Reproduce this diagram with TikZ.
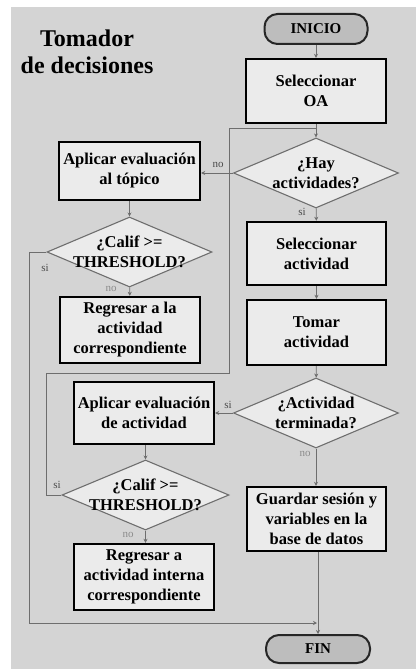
\documentclass[tikz,border=0pt]{standalone}
\usepackage{fontspec}
\setmainfont{Liberation Serif}
\usetikzlibrary{shapes.geometric,arrows.meta}
\definecolor{bgpanel}{HTML}{D4D4D4}
\definecolor{boxfill}{HTML}{EBEBEB}
\definecolor{termfill}{HTML}{BDBDBD}
\definecolor{wire}{HTML}{6E6E6E}
\definecolor{lbl}{HTML}{4A4A4A}
\definecolor{lblpale}{HTML}{8C8C8C}
\tikzset{
  txt/.style={font=\fontsize{16.5}{20}\selectfont\bfseries, align=center},
  procbox/.style={draw=black, line width=2.4pt, fill=boxfill, txt, inner sep=0pt},
  termbox/.style={draw=black!85, line width=2pt, fill=termfill, rounded corners=13pt,
    font=\fontsize{15}{18}\selectfont\bfseries, inner sep=0pt},
  decbox/.style={diamond, draw=wire, line width=1.1pt, fill=boxfill, inner sep=0pt,
    minimum width=165pt, minimum height=70pt, aspect=2.36},
  flow/.style={draw=wire, line width=0.9pt},
  arr/.style={flow, -{Stealth[length=4pt,width=4pt,fill=black!80]}},
  tag/.style={font=\fontsize{11}{12}\selectfont, text=lbl, inner sep=0pt},
  tagpale/.style={tag, text=lblpale},
}
\begin{document}
\begin{tikzpicture}[x=1pt,y=-1pt]
\useasboundingbox (0,0) rectangle (416,669);
\fill[bgpanel] (11,7) rectangle (416,669);

% title
\node[font=\fontsize{24}{27}\selectfont\bfseries, align=center] (title) at (87,52)
  {Tomador\\de decisiones};

% main column
\node[termbox, minimum width=103pt, minimum height=30pt] (ini) at (316,29) {INICIO};
\node[procbox, minimum width=140pt, minimum height=64pt] (selOA) at (316,91) {Seleccionar\\OA};
\node[decbox, label={[txt]center:¿Hay\\actividades?}] (hay) at (316,173) {};
\node[procbox, minimum width=139pt, minimum height=63pt] (selAct) at (316.5,253.5) {Seleccionar\\actividad};
\node[procbox, minimum width=139pt, minimum height=65pt] (tomar) at (316.5,332.5) {Tomar\\actividad};
\node[decbox, label={[txt]center:¿Actividad\\terminada?}] (term) at (316,413) {};
\node[procbox, minimum width=139pt, minimum height=64pt] (guardar) at (316.5,519) {Guardar sesión y\\variables en la\\base de datos};
\node[termbox, minimum width=104pt, minimum height=28pt] (fin) at (318,649) {FIN};

% topic evaluation branch
\node[procbox, minimum width=141pt, minimum height=58pt] (aplTop) at (129.5,171) {Aplicar evaluación\\al tópico};
\node[decbox, label={[txt]center:¿Calif >=\\THRESHOLD?}] (calA) at (129.5,252) {};
\node[procbox, minimum width=140pt, minimum height=66pt] (regA) at (130,330) {Regresar a la\\actividad\\correspondiente};

% activity evaluation branch
\node[procbox, minimum width=140pt, minimum height=62pt] (aplAct) at (144,413) {Aplicar evaluación\\de actividad};
\node[decbox, minimum width=167pt, label={[txt]center:¿Calif >=\\THRESHOLD?}] (calB) at (145.5,495) {};
\node[procbox, minimum width=140pt, minimum height=66pt] (regB) at (144,577) {Regresar a\\actividad interna\\correspondiente};

% bend points of the return lines
\coordinate (loopA) at (46,373);
\coordinate (loopB) at (229,128);
\coordinate (loopEnd) at (316,128);
\coordinate (exitA) at (29,623);
\coordinate (exitEnd) at (317,623);

% main flow
\draw[arr] (ini) -- (selOA);
\draw[arr] (selOA) -- (hay);
\draw[arr] (hay) -- (selAct);
\draw[arr] (selAct) -- (tomar);
\draw[arr] (tomar) -- (term);
\draw[arr] (term) -- (term.south |- guardar.north);
\draw[arr] (guardar.south -| fin.north) -- (fin);

% branches
\draw[arr] (hay.west) -- (hay.west -| aplTop.east);
\draw[arr] (aplTop) -- (calA);
\draw[arr] (calA) -- (regA);
\draw[arr] (term.west) -- (term.west -| aplAct.east);
\draw[arr] (aplAct.south -| calB.north) -- (calB);
\draw[arr] (calB) -- (regB.north -| calB.south);

% return lines
\draw[flow] (calB.west) -| (loopA) -| (loopB) -- (loopEnd);
\draw[arr] (calA.west) -| (exitA) -- (exitEnd);

% branch labels
\node[tag] (tNoHay) at (218,165) {no};
\node[tag] (tSiHay) at (302,212) {si};
\node[tag] (tSiA) at (45,268) {si};
\node[tagpale] (tNoA) at (111,289) {no};
\node[tag] (tSiTerm) at (228,405) {si};
\node[tagpale] (tNoTerm) at (305,454) {no};
\node[tag] (tSiB) at (57,485) {si};
\node[tagpale] (tNoB) at (128,535) {no};
\end{tikzpicture}
\end{document}
